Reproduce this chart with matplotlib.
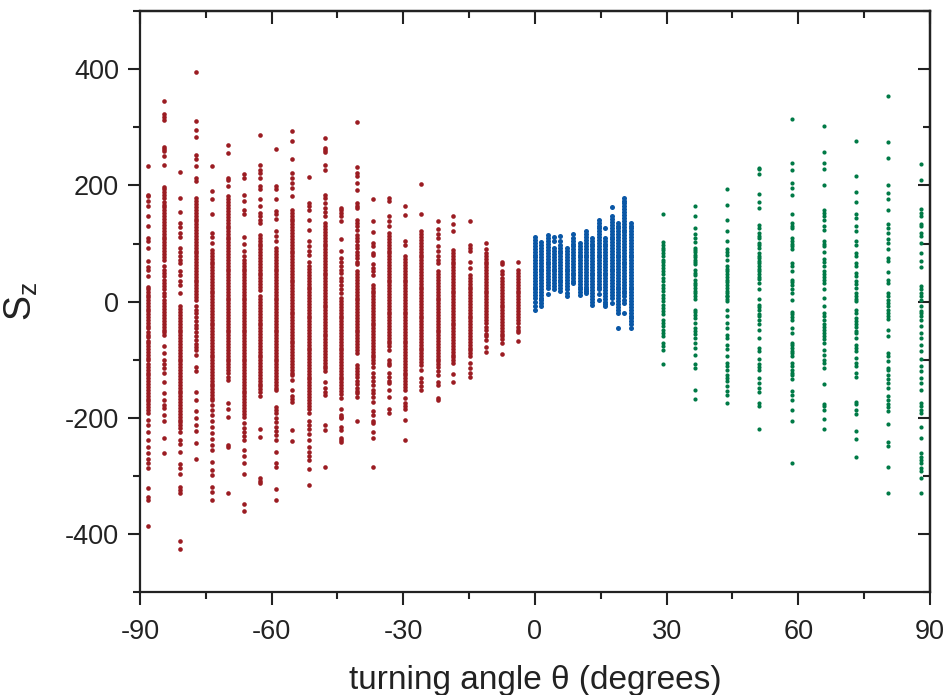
import matplotlib
matplotlib.use("Agg")
import matplotlib.pyplot as plt
from matplotlib.ticker import MultipleLocator

plt.rcParams['font.family'] = ['Liberation Sans', 'DejaVu Sans']
plt.rcParams['mathtext.default'] = 'regular'

# turning angle of each column (degrees)
red_theta = [-88.2, -84.6, -80.9, -77.3, -73.6, -69.9, -66.3, -62.6, -58.9, -55.3, -51.6, -47.9,
             -44.2, -40.6, -36.9, -33.2, -29.6, -25.9, -22.2, -18.6, -14.9, -11.2, -7.6, -3.9]
blue_theta = [0.0, 1.4, 2.9, 4.4, 5.8, 7.3, 8.7, 10.2, 11.6, 13.1, 14.6, 16.0, 17.5, 18.9, 20.4, 21.8]
green_theta = [29.1, 36.5, 43.8, 51.1, 58.5, 65.8, 73.2, 80.5, 87.9]

# S_z values
red_sz = [
    "233 184 181 173 164 147 131 109 105 93 70 59 54 44 26 21 17 12 8 3 -2 -7 -12 -16 -22 -27 -31 -37 -42 -46 -52 -57 -61 -67 -72 -76 -82 -87 -92 -97 -101 -107 -112 -117 -122 -126 -132 -137 -141 -147 -152 -157 -162 -167 -171 -177 -182 -187 -192 -204 -213 -224 -238 -250 -260 -270 -278 -287 -321 -336 -341 -387",
    "345 323 318 312 266 262 259 250 236 198 193 188 183 178 172 167 163 157 152 147 142 137 132 127 122 117 112 107 102 97 92 87 82 77 72 61 55 49 44 38 32 27 21 15 9 3 -3 -8 -13 -18 -23 -28 -33 -38 -43 -48 -53 -58 -77 -88 -100 -108 -115 -123 -138 -157 -170 -178 -183 -195 -206 -235 -261",
    "223 178 154 135 128 118 112 92 86 79 72 66 52 45 35 28 15 -8 -13 -18 -23 -28 -33 -38 -43 -48 -53 -58 -63 -68 -73 -78 -83 -88 -93 -98 -103 -108 -113 -118 -123 -128 -133 -138 -143 -148 -153 -158 -163 -168 -173 -178 -183 -188 -193 -198 -203 -208 -213 -218 -224 -238 -245 -258 -279 -287 -296 -319 -325 -330 -412 -425",
    "395 311 295 283 253 245 234 213 207 178 173 168 163 158 153 148 143 138 133 128 123 118 113 108 103 98 93 88 83 78 73 68 63 58 53 48 43 38 33 28 23 18 13 8 3 -8 -14 -20 -27 -33 -40 -46 -53 -60 -66 -73 -78 -83 -92 -112 -120 -155 -170 -188 -200 -212 -222 -244 -271",
    "234 190 177 150 118 112 101 89 84 79 74 69 64 59 54 49 44 39 34 29 24 19 14 9 4 -1 -6 -11 -16 -21 -26 -31 -36 -41 -46 -51 -56 -61 -66 -71 -76 -81 -86 -91 -96 -101 -106 -111 -116 -121 -126 -131 -136 -141 -146 -151 -156 -161 -166 -169 -178 -186 -195 -206 -215 -226 -236 -246 -255 -276 -290 -299 -319 -328 -341",
    "269 256 213 209 199 181 176 171 166 161 156 151 146 141 136 131 126 121 116 112 107 102 97 92 87 82 77 72 67 62 57 52 47 42 37 32 27 22 17 12 7 2 -3 -8 -13 -18 -23 -28 -33 -38 -43 -48 -53 -58 -63 -68 -73 -78 -83 -88 -93 -98 -103 -108 -113 -118 -123 -129 -135 -175 -184 -198 -247 -251 -330",
    "219 213 184 173 158 150 112 100 88 78 72 67 62 57 52 47 42 37 32 27 22 17 12 7 2 -3 -8 -13 -18 -23 -28 -33 -38 -43 -48 -53 -58 -63 -68 -73 -78 -83 -88 -93 -98 -103 -108 -113 -118 -123 -128 -133 -138 -143 -148 -153 -158 -163 -168 -173 -178 -183 -188 -193 -198 -209 -217 -225 -232 -238 -256 -266 -277 -296 -349 -360",
    "287 236 227 222 213 199 193 176 164 153 147 141 135 115 110 105 100 95 90 85 80 75 70 65 60 55 50 45 40 35 30 25 20 9 4 -1 -6 -11 -16 -21 -26 -31 -36 -41 -46 -51 -56 -61 -66 -71 -76 -81 -86 -91 -96 -101 -106 -111 -116 -121 -126 -131 -136 -141 -146 -151 -156 -163 -220 -233 -304 -308 -312",
    "262 199 194 177 156 150 142 121 113 104 92 87 82 77 72 67 62 57 52 47 42 37 32 27 22 17 12 7 2 -3 -8 -13 -18 -23 -28 -33 -38 -43 -48 -53 -58 -63 -68 -73 -78 -83 -88 -93 -98 -103 -108 -113 -118 -123 -128 -133 -138 -143 -148 -152 -181 -186 -192 -201 -208 -215 -222 -230 -238 -258 -278 -284 -323 -342",
    "294 276 245 222 213 204 196 182 158 153 148 143 138 133 128 123 118 113 108 103 98 93 88 83 78 73 68 63 58 53 48 43 38 33 28 23 18 13 8 3 -2 -7 -12 -17 -22 -27 -32 -37 -42 -47 -52 -57 -62 -67 -72 -77 -82 -87 -92 -97 -102 -107 -112 -117 -122 -127 -135 -152 -163 -168 -172 -221 -240",
    "215 170 164 158 141 123 104 96 88 80 69 61 56 51 46 41 36 31 26 21 16 11 6 1 -4 -9 -14 -19 -24 -29 -34 -39 -44 -49 -54 -59 -64 -69 -74 -79 -84 -89 -94 -99 -104 -109 -114 -119 -124 -129 -134 -139 -144 -149 -154 -159 -164 -169 -174 -179 -184 -192 -206 -212 -220 -228 -238 -250 -258 -266 -273 -288 -316",
    "281 265 261 257 236 226 184 178 170 161 154 147 135 130 125 120 115 110 105 100 95 90 85 80 75 70 65 60 55 50 45 40 35 30 25 20 15 10 5 0 -5 -10 -15 -20 -25 -30 -35 -40 -45 -50 -55 -60 -65 -70 -75 -80 -85 -90 -95 -100 -105 -110 -115 -120 -138 -149 -155 -161 -212 -221 -284",
    "162 157 152 147 138 107 87 75 69 62 55 49 41 35 28 21 15 6 1 -4 -9 -14 -19 -24 -29 -34 -39 -44 -49 -54 -59 -64 -69 -74 -79 -84 -89 -94 -99 -104 -109 -114 -119 -124 -129 -134 -139 -144 -149 -154 -159 -166 -184 -195 -198 -201 -215 -221 -235 -238 -241",
    "310 232 222 216 204 192 169 165 161 141 135 130 124 115 110 104 98 92 86 80 75 69 64 52 47 42 37 32 27 22 17 12 7 2 -3 -8 -13 -18 -23 -28 -33 -38 -43 -48 -53 -58 -63 -68 -73 -78 -83 -89 -109 -114 -119 -124 -130 -136 -142 -148 -153 -158 -165 -205",
    "177 138 119 101 95 84 81 65 58 52 46 29 24 19 14 9 4 -1 -6 -11 -16 -21 -26 -31 -36 -41 -46 -51 -56 -61 -66 -71 -76 -81 -86 -91 -96 -101 -106 -112 -123 -130 -136 -143 -152 -158 -165 -172 -189 -195 -206 -209 -224 -235 -284",
    "179 173 148 138 130 118 113 108 103 98 93 88 83 78 73 68 63 58 53 48 43 38 33 28 23 18 13 8 3 -2 -7 -12 -17 -22 -27 -32 -37 -42 -47 -52 -57 -62 -67 -72 -77 -83 -100 -105 -109 -123 -130 -136 -140 -152 -165 -184 -191",
    "165 149 104 97 78 73 68 63 58 53 48 43 38 33 28 23 18 13 8 3 -2 -7 -12 -17 -22 -27 -32 -37 -42 -47 -52 -57 -62 -67 -72 -77 -82 -87 -92 -97 -102 -107 -112 -117 -122 -127 -132 -137 -142 -147 -152 -166 -175 -180 -184 -203 -238",
    "202 150 121 116 111 106 101 96 91 86 81 76 71 66 61 56 51 46 41 36 31 26 21 16 11 6 1 -4 -9 -14 -19 -24 -29 -34 -39 -44 -49 -54 -59 -64 -69 -74 -79 -84 -89 -94 -99 -104 -109 -117 -132 -138 -145 -152",
    "138 125 117 110 95 87 78 72 67 52 47 42 37 32 27 22 17 12 7 2 -3 -8 -13 -18 -23 -28 -33 -38 -43 -48 -53 -58 -63 -68 -73 -78 -83 -88 -93 -98 -103 -108 -113 -120 -126 -138 -143 -166 -170",
    "147 133 121 89 84 79 74 69 64 59 54 49 44 39 34 29 24 19 14 9 4 -1 -6 -11 -16 -21 -26 -31 -36 -41 -46 -51 -56 -61 -66 -71 -76 -81 -86 -91 -96 -101 -106 -124 -139",
    "139 98 92 87 69 58 46 41 36 31 26 21 16 11 6 1 -4 -9 -14 -19 -24 -29 -34 -39 -44 -49 -54 -59 -64 -69 -74 -79 -84 -89 -94 -105 -115 -123 -129",
    "101 91 84 79 74 69 64 59 54 49 44 39 34 29 24 19 14 9 4 -1 -6 -11 -16 -21 -26 -31 -37 -43 -49 -55 -60 -66 -78 -87",
    "69 64 52 47 41 35 30 25 20 15 10 5 0 -5 -10 -15 -20 -25 -30 -35 -40 -45 -50 -55 -60 -65 -72 -90",
    "68 54 49 44 39 34 29 24 19 14 9 4 -1 -6 -11 -16 -21 -26 -31 -36 -43 -49 -52 -67",
]

blue_sz = [
    "111 106 101 96 91 86 81 76 71 66 61 56 51 46 41 36 31 26 21 16 11 6 0 -8 -14",
    "102 97 92 87 82 77 72 67 62 57 52 47 42 37 32 27 22 17 12 7 2 -2 -8",
    "114 109 104 99 94 89 84 79 74 69 64 59 54 49 44 39 34 29 24 13",
    "111 104 92 87 82 77 72 67 62 57 52 47 42 37 32 27 21",
    "113 104 98 93 88 83 78 73 68 63 58 53 48 43 38 33 28 23 18",
    "92 87 82 77 72 67 62 57 52 47 42 37 32 27 22 15 9",
    "117 110 105 100 95 90 85 80 75 70 65 60 55 50 45 40 35 32",
    "101 96 91 86 81 76 71 66 61 56 51 46 41 36 31 26 21 16 12",
    "121 116 111 106 101 96 91 86 81 76 71 66 61 56 51 46 41 36 31 26 21 18 15",
    "110 105 100 95 90 85 80 75 70 65 60 55 50 45 40 35 30 25 20 15 10 5 0 -5",
    "141 136 131 126 121 116 111 106 101 96 91 86 81 76 71 66 61 56 51 46 41 36 31 26 21 13 2",
    "127 110 105 100 95 90 85 80 75 70 65 60 55 50 45 40 35 30 25 20 15 10 5 0 -4 -8",
    "163 148 142 137 132 127 122 117 112 107 102 97 92 87 82 77 72 67 62 57 52 47 42 37 32 27 22 17 12 6 -3",
    "136 131 126 121 116 111 106 101 96 91 86 81 76 71 66 61 56 51 46 41 36 31 26 21 16 11 6 1 -4 -9 -14 -19 -45",
    "179 174 169 164 159 154 149 144 139 134 129 124 119 114 109 104 99 94 89 84 79 74 69 64 59 54 49 44 39 34 29 24 19 14 9 3 -3 -19",
    "136 131 126 121 116 111 106 101 96 91 86 81 76 71 66 61 56 51 46 41 36 31 26 21 16 11 6 1 -4 -9 -14 -19 -24 -29 -34 -39 -45",
]

green_sz = [
    "150 102 98 93 89 84 78 72 68 63 58 52 47 41 35 29 24 18 12 6 1 -5 -11 -16 -22 -31 -37 -42 -48 -54 -60 -71 -77 -84 -108",
    "164 147 127 116 110 102 93 89 85 80 76 72 68 65 55 50 46 38 32 28 24 19 14 9 5 -14 -18 -23 -28 -37 -45 -50 -56 -62 -71 -80 -91 -108 -114 -152 -167",
    "194 166 141 121 104 90 85 81 72 61 56 52 47 42 37 33 28 24 19 15 10 9 5 1 -14 -25 -37 -45 -57 -62 -74 -82 -94 -106 -111 -117 -126 -131 -137 -146 -154 -160 -175",
    "230 228 220 185 171 162 132 127 118 113 110 101 97 93 84 79 75 70 67 61 56 53 48 43 39 32 21 4 -5 -10 -15 -21 -25 -31 -39 -48 -62 -80 -85 -99 -108 -113 -117 -131 -140 -149 -156 -175 -180 -220",
    "315 238 226 204 196 183 151 136 131 127 110 105 100 96 90 67 61 52 38 33 29 21 15 3 -17 -22 -27 -31 -45 -54 -71 -75 -80 -85 -89 -94 -106 -111 -117 -122 -127 -134 -154 -160 -169 -186 -205 -278",
    "303 258 238 229 200 157 153 147 141 131 124 104 100 96 85 73 68 61 52 47 43 38 32 21 6 -8 -19 -24 -31 -39 -44 -49 -54 -59 -64 -71 -83 -91 -100 -106 -114 -142 -176 -180 -186 -202 -220",
    "276 216 189 172 150 144 130 121 104 98 84 78 67 61 49 44 35 30 24 15 10 5 1 -14 -19 -28 -33 -38 -44 -50 -54 -62 -74 -80 -85 -97 -106 -111 -122 -130 -172 -177 -186 -194 -223 -236 -268",
    "354 275 247 201 187 176 157 134 127 118 107 101 90 75 70 51 38 32 15 9 3 -3 -8 -14 -19 -25 -30 -48 -59 -89 -94 -103 -114 -117 -126 -134 -140 -149 -162 -169 -176 -182 -189 -211 -242 -249 -284 -329",
    "237 210 160 153 147 134 130 118 113 101 84 70 59 27 21 15 9 3 -8 -16 -19 -25 -31 -42 -54 -62 -74 -85 -99 -111 -120 -131 -140 -152 -175 -180 -186 -192 -216 -234 -261 -267 -273 -278 -287 -292 -304 -329",
]

red_color = '#9b1c22'
blue_color = '#0a57a6'
green_color = '#007a46'

fig = plt.figure(figsize=(9.46, 6.95), dpi=100)
ax = fig.add_axes([0.148, 0.148, 0.835, 0.836])


def draw(thetas, cols, color, size):
    for t, col in zip(thetas, cols):
        vals = [int(v) for v in col.split()]
        ax.scatter([t] * len(vals), vals, s=size, color=color, linewidths=0, zorder=3)


draw(red_theta, red_sz, red_color, 11)
draw(blue_theta, blue_sz, blue_color, 13)
draw(green_theta, green_sz, green_color, 9)

ax.set_xlim(-90, 90)
ax.set_ylim(-500, 500)
ax.xaxis.set_minor_locator(MultipleLocator(15))
ax.yaxis.set_minor_locator(MultipleLocator(100))
ax.set_xticks([-90, -60, -30, 0, 30, 60, 90])
ax.set_xticklabels(['-90', '-60', '-30', '0', '30', '60', '90'])
ax.set_yticks([-400, -200, 0, 200, 400])
ax.set_yticklabels(['-400', '-200', '0', '200', '400'])

for s in ax.spines.values():
    s.set_linewidth(1.6)
    s.set_color('#222222')
ax.tick_params(which='major', direction='out', length=9, width=1.5, labelsize=19.5, pad=6, color='#222222', labelcolor='#222222')
ax.tick_params(which='minor', direction='out', length=5, width=1.5, color='#222222')
ax.tick_params(axis='x', which='major', pad=10)

# inward ticks on top and right
top = ax.secondary_xaxis('top')
top.xaxis.set_major_locator(MultipleLocator(30))
top.xaxis.set_minor_locator(MultipleLocator(15))
top.tick_params(which='major', direction='in', length=9, width=1.5, labeltop=False, color='#222222')
top.tick_params(which='minor', direction='in', length=5, width=1.5, color='#222222')
right = ax.secondary_yaxis('right')
right.yaxis.set_major_locator(MultipleLocator(200))
right.yaxis.set_minor_locator(MultipleLocator(100))
right.tick_params(which='major', direction='in', length=9, width=1.5, labelright=False, color='#222222')
right.tick_params(which='minor', direction='in', length=5, width=1.5, color='#222222')
for sec in (top, right):
    for s in sec.spines.values():
        s.set_linewidth(1.6)

ax.set_xlabel('turning angle \u03b8 (degrees)', fontsize=24, labelpad=15, color='#222222')
ax.set_ylabel('$S_z$', fontsize=27, labelpad=18, color='#222222')

fig.savefig('out.png', dpi=100)
